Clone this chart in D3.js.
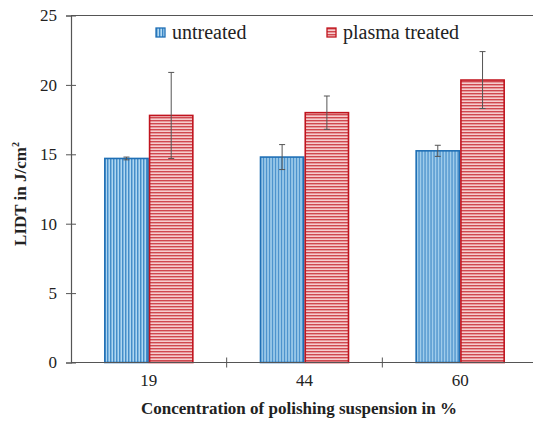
<!DOCTYPE html>
<html><head><meta charset="utf-8">
<script src="https://cdn.jsdelivr.net/npm/d3@7/dist/d3.min.js"></script>
<style>body{margin:0;background:#fff}svg{display:block}
svg text{font-family:"Liberation Serif","Times New Roman",Times,serif !important;}</style>
</head><body>
<svg id="c" width="533" height="427"></svg>
<script>
const categories = ["19", "44", "60"];
const series = ["untreated", "plasma treated"];
const untreated = [14.7, 14.8, 15.25];
const untreatedErr = [0.1, 0.9, 0.4];
const plasma = [17.8, 18.0, 20.35];
const plasmaErr = [3.1, 1.2, 2.05];
const yTicks = [0, 5, 10, 15, 20, 25];

const svg = d3.select("#c");
const L = 71, R = 538, T = 15.5, B = 362.5;

const defs = svg.append("defs");
const pb = defs.append("pattern").attr("id","pBlue").attr("patternUnits","userSpaceOnUse")
  .attr("width",3).attr("height",3);
pb.append("rect").attr("width",3).attr("height",3).attr("fill","#b3daf2");
pb.append("rect").attr("x",0).attr("width",1.4).attr("height",3).attr("fill","#3a86c6");
const pr = defs.append("pattern").attr("id","pRed").attr("patternUnits","userSpaceOnUse")
  .attr("width",3).attr("height",3);
pr.append("rect").attr("width",3).attr("height",3).attr("fill","#f6cdce");
pr.append("rect").attr("y",0).attr("width",3).attr("height",1.4).attr("fill","#d0484f");

const x0 = d3.scaleBand().domain(categories).range([L, R]).padding(0);
const groupW = x0.bandwidth() * 0.575;
const x1 = d3.scaleBand().domain(series).range([0, groupW]).padding(0);
const y = d3.scaleLinear().domain([0, 25]).range([B, T]);

const data = categories.map((c, i) => ({c, vals: [
  {s: series[0], v: untreated[i], e: untreatedErr[i]},
  {s: series[1], v: plasma[i], e: plasmaErr[i]}
]}));

const fills = {"untreated": "url(#pBlue)", "plasma treated": "url(#pRed)"};
const strokes = {"untreated": "#1f6fb5", "plasma treated": "#c0141e"};

const g = svg.append("g").selectAll("g").data(data).join("g")
  .attr("transform", d => `translate(${x0(d.c) + (x0.bandwidth() - groupW) / 2},0)`);
g.selectAll("rect").data(d => d.vals).join("rect")
  .attr("x", d => x1(d.s) + 0.75).attr("width", x1.bandwidth() - 1.5)
  .attr("y", d => y(d.v)).attr("height", d => y(0) - y(d.v))
  .attr("fill", d => fills[d.s]).attr("stroke", d => strokes[d.s]).attr("stroke-width", 1.6);

// error bars
const eb = g.selectAll("g.eb").data(d => d.vals).join("g").attr("class","eb")
  .attr("stroke","#555").attr("stroke-width",1);
eb.append("line")
  .attr("x1", d => x1(d.s) + x1.bandwidth()/2).attr("x2", d => x1(d.s) + x1.bandwidth()/2)
  .attr("y1", d => y(d.v + d.e)).attr("y2", d => y(d.v - d.e));
eb.append("line")
  .attr("x1", d => x1(d.s) + x1.bandwidth()/2 - 3).attr("x2", d => x1(d.s) + x1.bandwidth()/2 + 3)
  .attr("y1", d => y(d.v + d.e)).attr("y2", d => y(d.v + d.e));
eb.append("line")
  .attr("x1", d => x1(d.s) + x1.bandwidth()/2 - 3).attr("x2", d => x1(d.s) + x1.bandwidth()/2 + 3)
  .attr("y1", d => y(d.v - d.e)).attr("y2", d => y(d.v - d.e));

// top border
svg.append("line").attr("x1", L).attr("x2", 533).attr("y1", T).attr("y2", T)
  .attr("stroke", "#555").attr("stroke-width", 1.2);

// y axis
const ya = svg.append("g").attr("transform", `translate(${L},0)`)
  .call(d3.axisLeft(y).tickValues(yTicks).tickSize(5).tickPadding(9));
ya.select(".domain").attr("stroke","#555").attr("stroke-width",1.2);
ya.selectAll(".tick line").attr("stroke","#555").attr("x2", 5).attr("x1",-5);
ya.selectAll("text").attr("font-size", 17).attr("fill","#222");

// x axis
const xa = svg.append("g").attr("transform", `translate(0,${B})`)
  .call(d3.axisBottom(x0).tickSize(0).tickPadding(11));
xa.select(".domain").remove();
xa.append("line").attr("x1", L).attr("x2", 533).attr("stroke","#555").attr("stroke-width",1.2);
xa.selectAll("text").attr("font-size", 17).attr("fill","#222");
const bounds = categories.slice(1).map(c => x0(c));
xa.selectAll("line.bt").data(bounds).join("line").attr("class","bt")
  .attr("x1", d => d).attr("x2", d => d).attr("y1", -5).attr("y2", 5)
  .attr("stroke","#555").attr("stroke-width",1);

// titles
svg.append("text").attr("x", 299).attr("y", 414).attr("text-anchor","middle")
  .attr("font-weight","bold").attr("font-size", 17).attr("fill","#222")
  .text("Concentration of polishing suspension in %");
const yt = svg.append("text").attr("transform", `translate(26,194) rotate(-90)`)
  .attr("text-anchor","middle").attr("font-weight","bold")
  .attr("font-size", 17).attr("fill","#222");
yt.append("tspan").text("LIDT in J/cm");
yt.append("tspan").attr("font-size", 10).attr("dy", -7).text("2");

// legend
const legX = [156, 327];
const lg = svg.append("g").selectAll("g").data(series).join("g")
  .attr("transform", (d, i) => `translate(${legX[i]},28)`);
lg.append("rect").attr("width", 9).attr("height", 9)
  .attr("fill", d => fills[d]).attr("stroke", d => strokes[d]).attr("stroke-width", 1.3);
lg.append("text").attr("x", 16).attr("y", 11).attr("font-size", 20)
  .attr("fill","#222").text(d => d);
</script>
</body></html>
